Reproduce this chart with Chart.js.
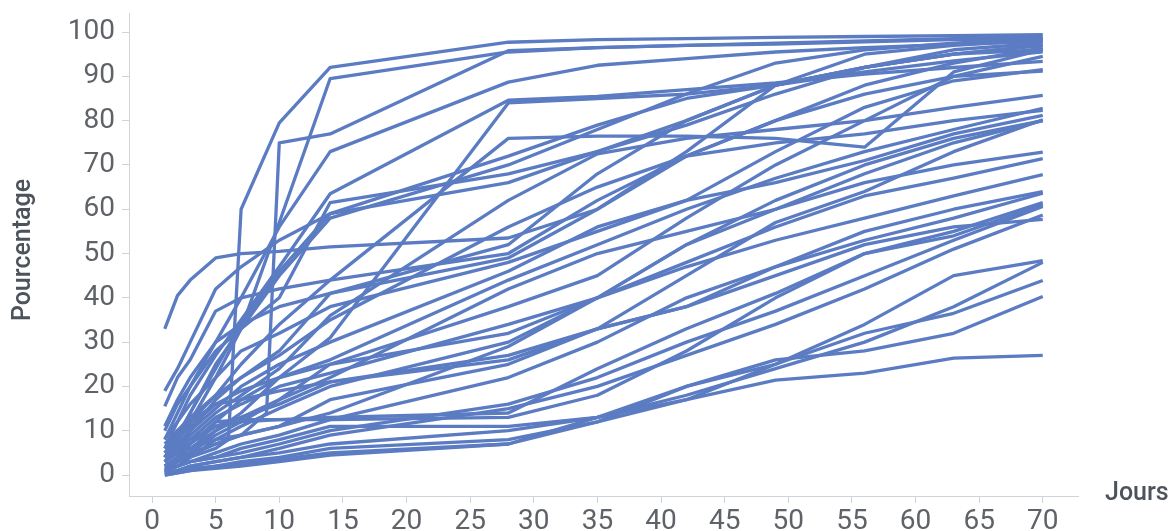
<!DOCTYPE html>
<html>
<head>
<meta charset="utf-8">
<script src="https://cdn.jsdelivr.net/npm/chart.js@4/dist/chart.umd.min.js"></script>
<style>
  html, body { margin: 0; padding: 0; background: #fff; }
  canvas { display: block; }
</style>
</head>
<body>
<canvas id="graphique" width="1173" height="531"></canvas>
<script>
const _ = null;

// jours de mesure (certaines séries n'ont pas de valeur à 6 et 9)
const jours = [1, 2, 3, 5, 6, 7, 9, 10, 14, 28, 35, 42, 49, 56, 63, 70];

const ticksX = [0, 5, 10, 15, 20, 25, 30, 35, 40, 45, 50, 55, 60, 65, 70];
const ticksY = [0, 10, 20, 30, 40, 50, 60, 70, 80, 90, 100];

const s01 = [2, 3, 4, 6, 8, 60, _, 79.5, 92, 97.7, 98.3, 98.5, 98.8, 99, 99.2, 99.4];
const s02 = [4, 8, 12, 22, _, 33, _, 57, 89.5, 95.5, 96.5, 97, 97.3, 97.8, 98.3, 98.5];
const s03 = [3, 5, 6, 8, _, 9, 14, 75, 77, 95.8, 96.5, 97, 97.5, 98, 98.5, 99];
const s04 = [8, 14, 20, 30, _, 40, _, 56, 73, 88.7, 92.5, 94, 95.5, 96.5, 97.2, 97.9];
const s05 = [6, 12, 18, 27, _, 35, _, 47, 63.5, 84.6, 85.5, 87, 88.5, 90.5, 92, 93.4];
const s06 = [33, 40.5, 44, 49, _, 50, _, 50.5, 51.5, 53.5, 60, 73, 88, 95, 97, 98.2];
const s07 = [2, 4, 6, 10, _, 14, _, 22, 31, 84, 85, 86, 88, 92, 96, 97.5];
const s08 = [4, 8, 12, 18, _, 25, _, 34, 44, 76, 76.5, 76.5, 76, 74, 91, 96];
const s09 = [10, 16, 20, 28, _, 33, _, 40, 61.5, 68, 73, 79, 86, 92, 95, 97];
const s10 = [5, 9, 14, 24, _, 34, _, 46, 59, 72, 79, 85, 88, 91, 93.5, 95.5];
const s11 = [15.5, 22, 26, 37, _, 40, _, 42, 44, 50, 62, 72, 80, 88, 93, 96.4];
const s12 = [19, 24, 30, 42, _, 47, _, 53, 59, 66, 73, 80, 88, 92, 95, 96];
const s13 = [11, 17, 22, 30, _, 34, _, 38, 41, 49, 60, 72, 80, 86, 90, 91.2];
const s14 = [8, 12, 16, 22, _, 28, _, 32, 38, 48, 55, 62, 73, 83, 89, 91.5];
const s15 = [3, 6, 9, 14, _, 18, _, 24, 36, 62, 72.5, 76, 78, 80, 83, 85.7];
const s16 = [2, 4, 7, 12, _, 17, _, 22, 26, 44, 52, 60, 67, 73, 78, 82.8];
const s17 = [6, 10, 13, 18, _, 22, _, 27, 35, 56, 65, 72, 75, 77, 80, 82.3];
const s18 = [4, 7, 10, 15, _, 20, _, 25, 30, 46, 56, 62, 66, 71, 77, 81.2];
const s19 = [3, 5, 8, 13, _, 16, _, 20, 23, 34, 40, 52, 60, 68, 75, 80];
const s20 = [7, 10, 12, 16, _, 17, _, 19, 21, 26, 33, 45, 57, 64, 73, 80.2];
const s21 = [2, 3, 5, 10, _, 13, _, 17, 22, 42, 50, 55, 60, 66, 70, 72.9];
const s22 = [1, 2, 4, 8, _, 11, _, 15, 20, 30, 40, 48, 56, 63, 67, 71.4];
const s23 = [5, 8, 11, 16, _, 19, _, 22, 25, 32, 40, 47, 53, 58, 63, 67.8];
const s24 = [3, 5, 7, 11, _, 13, _, 16, 21, 27, 33, 38, 47, 55, 60, 64];
const s25 = [1, 2, 3, 5, _, 7, _, 9, 12.5, 22, 30, 40, 47, 53, 58, 63.6];
const s26 = [2, 3, 5, 12, _, 12.5, _, 12.5, 12.5, 13, 18, 28, 40, 50, 55, 61.5];
const s27 = [4, 6, 8, 11, _, 12, _, 12.5, 13, 14, 24, 33, 41, 50, 54, 61];
const s28 = [1, 2, 3, 4, _, 5, _, 7, 10, 16, 22, 30, 37, 45, 53, 60.6];
const s29 = [0.5, 1, 2, 3, _, 4, _, 6, 9, 15, 20, 27, 34, 42, 51, 58.7];
const s30 = [2, 4, 5, 7, _, 9, _, 11, 17, 25, 33, 38, 45, 52, 56, 57.7];
const s31 = [1, 2, 3, 4, _, 6, _, 8, 11, 11, 13, 20, 25, 34, 45, 48.4];
const s32 = [0.5, 1, 1.5, 2, _, 3, _, 4, 6, 8, 12, 17, 25, 32, 36.5, 43.9];
const s33 = [0, 0.5, 1, 2, _, 2.5, _, 3.5, 5, 7, 12, 20, 26, 28, 32, 40.3];
const s34 = [0, 0.5, 1, 1.5, _, 2, _, 3, 4.5, 7, 13, 17, 21.4, 23, 26.4, 27];
const s35 = [4, 8, 14, 25, _, 33, _, 45, 58, 70, 78, 86, 93, 96, 97.5, 98.5];
const s36 = [1, 3, 5, 9, _, 12, _, 17, 25, 38, 45, 58, 70, 80, 90, 94.5];
const s37 = [3, 6, 10, 17, _, 22, _, 28, 41, 52, 68, 80, 88, 92, 95, 97];
const s38 = [1.5, 3, 4.5, 7, _, 9, _, 11, 14, 29, 40, 52, 62, 70, 76, 80];
const s39 = [0.5, 1, 2, 3, _, 4, _, 5, 7, 10, 13, 18, 24, 30, 38, 48];

const series = [s01, s02, s03, s04, s05, s06, s07, s08, s09, s10, s11, s12, s13,
  s14, s15, s16, s17, s18, s19, s20, s21, s22, s23, s24, s25, s26, s27, s28,
  s29, s30, s31, s32, s33, s34, s35, s36, s37, s38, s39];

const bleu = '#5b7cc2';
const gris = '#5f6368';
const trait = '#cfd4da';

const titres = {
  id: 'titres',
  afterDraw(chart) {
    const ctx = chart.ctx;
    ctx.save();
    ctx.fillStyle = '#4d535b';
    ctx.font = '500 25px Roboto';
    ctx.textBaseline = 'alphabetic';
    ctx.textAlign = 'left';
    ctx.fillText('Jours', 1105, 500);
    ctx.translate(30, 250);
    ctx.rotate(-Math.PI / 2);
    ctx.textAlign = 'center';
    ctx.fillText('Pourcentage', 0, 0);
    ctx.restore();
  }
};

new Chart(document.getElementById('graphique'), {
  type: 'line',
  data: {
    datasets: series.map((s, n) => ({
      label: 'S' + (n + 1),
      data: jours.map((j, i) => ({ x: j, y: s[i] })).filter(p => p.y !== null),
      borderColor: bleu,
      backgroundColor: bleu,
      borderWidth: 3.3,
      borderJoinStyle: 'round',
      pointRadius: 0,
      tension: 0,
      fill: false
    }))
  },
  options: {
    responsive: false,
    animation: false,
    devicePixelRatio: 1,
    layout: { padding: { top: 13, right: 95, left: 0, bottom: 0 } },
    plugins: { legend: { display: false }, tooltip: { enabled: false } },
    scales: {
      x: {
        type: 'linear',
        min: -1.81,
        max: 72.77,
        afterBuildTicks: (s) => { s.ticks = ticksX.map(v => ({ value: v })); },
        afterFit: (s) => { s.height = 35; s.paddingLeft = 0; s.paddingRight = 0; },
        ticks: { stepSize: 5, autoSkip: false, maxRotation: 0, padding: 2, color: gris, font: { family: 'Roboto', size: 28 } },
        grid: { drawOnChartArea: false, tickLength: 7, color: trait },
        border: { color: trait }
      },
      y: {
        type: 'linear',
        min: -4.74,
        max: 104.3,
        afterBuildTicks: (s) => { s.ticks = ticksY.map(v => ({ value: v })); },
        afterFit: (s) => { s.width = 129; s.paddingTop = 0; s.paddingBottom = 0; },
        ticks: { stepSize: 10, autoSkip: false, padding: 7, color: gris, font: { family: 'Roboto', size: 28 } },
        grid: { drawOnChartArea: false, tickLength: 7, color: trait },
        border: { color: trait }
      }
    }
  },
  plugins: [titres]
});
</script>
</body>
</html>
